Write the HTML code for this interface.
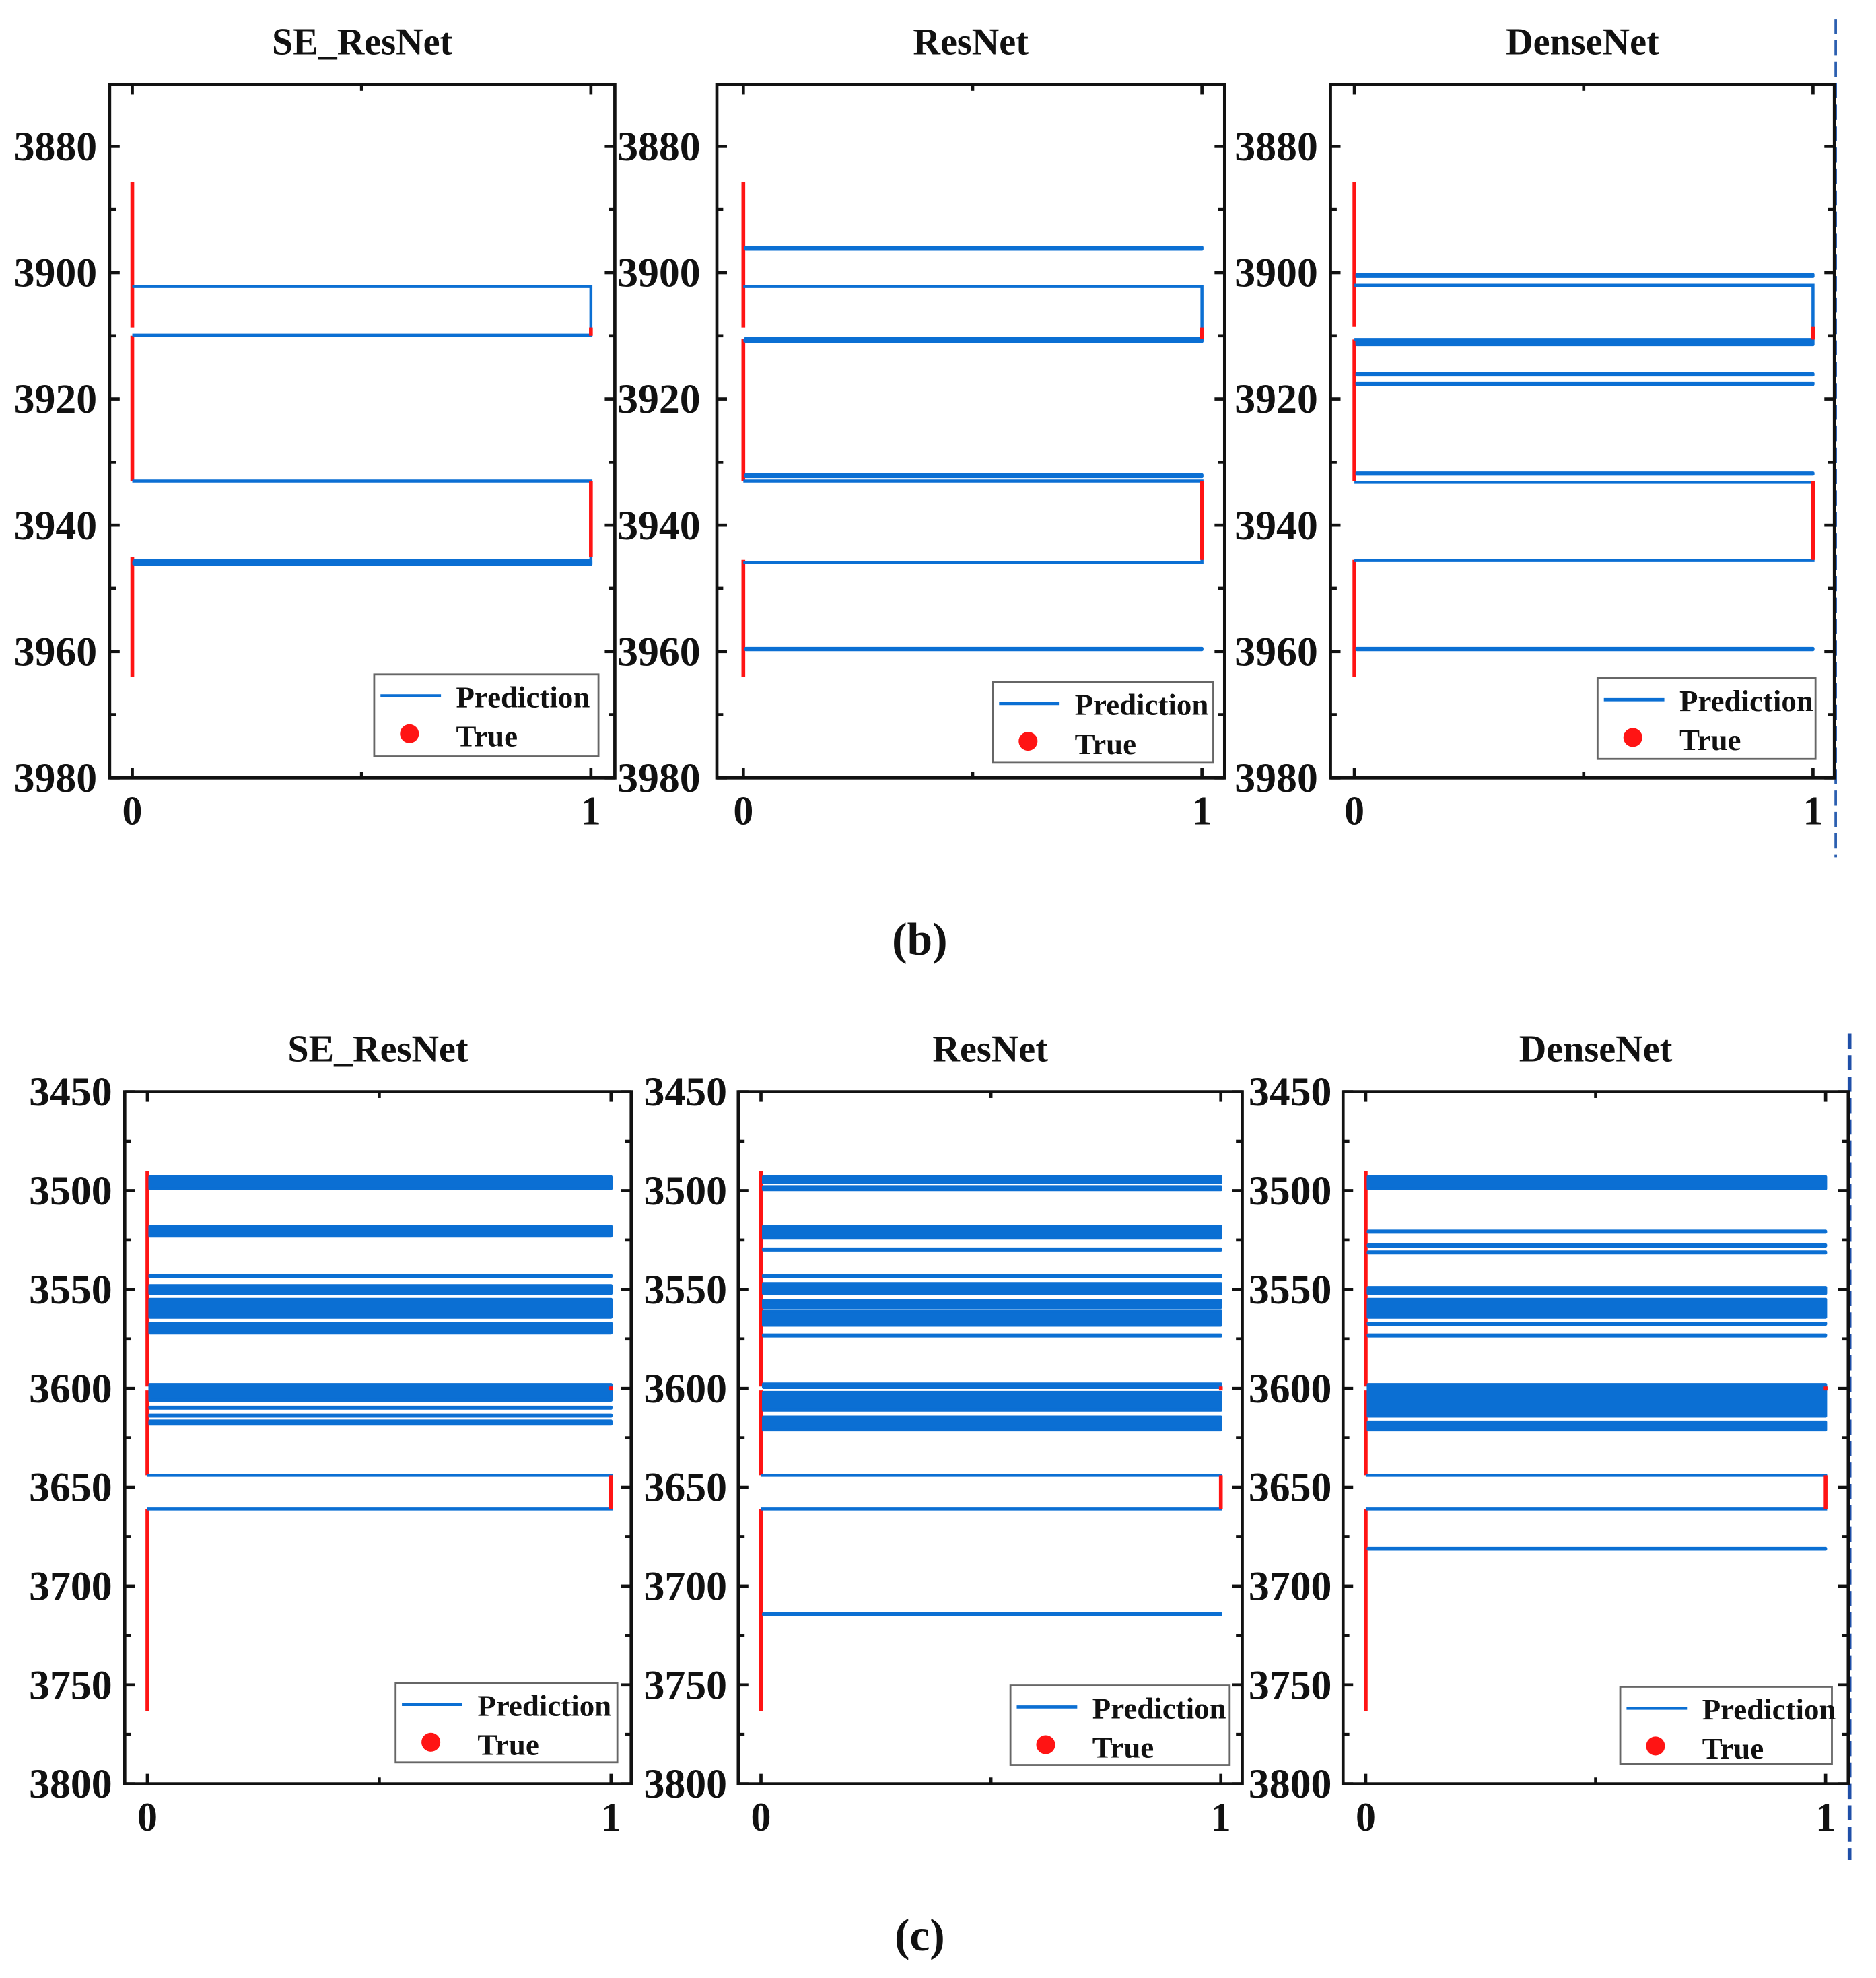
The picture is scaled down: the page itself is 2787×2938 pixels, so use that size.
<!DOCTYPE html>
<html><head><meta charset="utf-8"><style>
html,body{margin:0;padding:0;background:#fff;}
svg{display:block;}
text{font-family:"Liberation Serif",serif;font-weight:bold;fill:#111;}
</style></head>
<body>
<svg id="fig" width="2787" height="2938" viewBox="0 0 1489 1569" preserveAspectRatio="none" xmlns="http://www.w3.org/2000/svg">
<text x="730" y="757" font-size="36" text-anchor="middle">(b)</text>
<text x="730" y="1547" font-size="36" text-anchor="middle">(c)</text>
<line x1="1457" y1="15" x2="1457" y2="680" stroke="#2b5fb0" stroke-width="2" stroke-dasharray="12,5"/>
<line x1="1468" y1="820" x2="1468" y2="1475" stroke="#1f4fa8" stroke-width="3" stroke-dasharray="12,5"/>
</svg>
<script>
// ---- Panel (b) data ----
const bTitles = ["SE_ResNet","ResNet","DenseNet"];
const bTicks = [3880,3900,3920,3940,3960,3980];
const bDomain = [3870.2,3980];
const bSteps = [
  [[3902.2,3909.9],[3933,3946]],
  [[3902.2,3910.7],[3933,3945.9]],
  [[3902,3910.6],[3933.2,3945.6]]
];
const bLines = [
  [[3945.6,3946.2]],
  [[3896,3896.3],[3910.4,3910.9],[3932,3932.3],[3959.5,3959.7]],
  [[3900.3,3900.6],[3910.8,3911.4],[3916,3916.2],[3917.5,3917.7],[3931.7,3931.9],[3959.5,3959.7]]
];
const bTrueRange = [[3885.7,3964],[3885.7,3964],[3885.7,3964]];
const bTrueOnes = [
  [[3908.7,3910],[3933,3945]],
  [[3908.7,3910.5],[3933,3945.5]],
  [[3908.5,3910.6],[3933,3945.5]]
];
// ---- Panel (c) data ----
const cTitles = ["SE_ResNet","ResNet","DenseNet"];
const cTicks = [3450,3500,3550,3600,3650,3700,3750,3800];
const cDomain = [3450,3800];
const cSteps = [
  [[3644,3661]],
  [[3644,3661]],
  [[3644,3661]]
];
const cLines = [
  [[3493,3499],[3518,3523],[3543,3543.5],[3548,3552],[3555,3564],[3567,3572],[3598,3606],[3609.5,3610],[3613.5,3614],[3616.5,3618]],
  [[3493,3496],[3498,3499.5],[3518,3524],[3529.5,3530],[3543,3543.5],[3547,3552],[3555.5,3559],[3561,3568],[3573,3573.5],[3597.7,3599.5],[3602,3611],[3614.5,3621],[3714,3714.4]],
  [[3493,3499],[3520.5,3521],[3527.5,3528],[3531,3531.5],[3549,3552],[3555,3564],[3567,3567.5],[3573,3573.5],[3598,3614],[3617,3621],[3681,3681.4]]
];
const cTrueRange = [[3490,3763],[3490,3763],[3490,3763]];
const cTrueOnes = [
  [[3599,3601],[3644,3661]],
  [[3599,3601],[3644,3661]],
  [[3599,3601],[3644,3661]]
];

const NS = "http://www.w3.org/2000/svg";
const svg = document.getElementById("fig");
function mk(tag, attrs, parent){
  const e = document.createElementNS(NS, tag);
  for (const k in attrs) e.setAttribute(k, attrs[k]);
  (parent||svg).appendChild(e);
  return e;
}
const BLUE = "#0b6fd3", RED = "#ff1414";

function drawPanel(cfg){
  const {box, x0, x1, domain, ticks, minor, title, steps, lines, trueRange, trueOnes, legend, labelX, pid} = cfg;
  const g = mk("g", {});
  
  
  const yS = v => box.top + (v - domain[0]) / (domain[1] - domain[0]) * (box.bottom - box.top);
  const xS = v => x0 + v * (x1 - x0);
  const t = mk("text", {x:(box.left+box.right)/2, y:box.top-24, "font-size":30, "text-anchor":"middle"}, g);
  t.textContent = title;
  
  
  let cur = trueRange[0];
  const ones = trueOnes.slice().sort((a,b)=>a[0]-b[0]);
  ones.forEach(o => {
    if (o[0] > cur) {
      const l = mk("line", {x1:xS(0), x2:xS(0), y1:yS(cur), y2:yS(o[0]), stroke:RED, "stroke-width":3}, g);
      
      
    }
    cur = Math.max(cur, o[1]);
  });
  if (cur < trueRange[1]) {
    const l = mk("line", {x1:xS(0), x2:xS(0), y1:yS(cur), y2:yS(trueRange[1]), stroke:RED, "stroke-width":3}, g);
    
    
  }
  lines.forEach(b => {
    const y1 = yS(b[0]), y2 = yS(b[1]);
    const r = mk("rect", {x:xS(0)+2, y:y1, width:xS(1)-xS(0)-2, height:Math.max(0.01,y2-y1), fill:BLUE, stroke:BLUE, "stroke-width":2.4, "stroke-linejoin":"round"}, g);
    
    
  });
  steps.forEach(s => {
    const p = mk("path", {d:`M${xS(0)},${yS(s[0])}H${xS(1)}V${yS(s[1])}H${xS(0)}`, fill:"none", stroke:BLUE, "stroke-width":2.4}, g);
    
    
  });
  ones.forEach(o => {
    const l = mk("line", {x1:xS(1), x2:xS(1), y1:yS(o[0]), y2:yS(o[1]), stroke:RED, "stroke-width":3}, g);
    
    
  });
  const fr = mk("rect", {x:box.left, y:box.top, width:box.right-box.left, height:box.bottom-box.top, fill:"none", stroke:"#111", "stroke-width":2.5}, g);
  
  
  ticks.forEach((v,i) => {
    const y = yS(v);
    mk("line", {x1:box.left, x2:box.left+8, y1:y, y2:y, stroke:"#111", "stroke-width":2.5}, g);
    mk("line", {x1:box.right-8, x2:box.right, y1:y, y2:y, stroke:"#111", "stroke-width":2.5}, g);
    const tl = mk("text", {x:labelX, y:y+11, "font-size":33, "text-anchor":"end"}, g);
    tl.textContent = v;
    
    
    if (i < ticks.length-1) {
      const ym = yS(v + minor);
      mk("line", {x1:box.left, x2:box.left+5, y1:ym, y2:ym, stroke:"#111", "stroke-width":2.5}, g);
      mk("line", {x1:box.right-5, x2:box.right, y1:ym, y2:ym, stroke:"#111", "stroke-width":2.5}, g);
    }
  });
  [0,0.5,1].forEach(v => {
    const x = xS(v), len = v===0.5?5:8;
    mk("line", {x1:x, x2:x, y1:box.bottom-len, y2:box.bottom, stroke:"#111", "stroke-width":2.5}, g);
    mk("line", {x1:x, x2:x, y1:box.top, y2:box.top+len, stroke:"#111", "stroke-width":2.5}, g);
  });
  [0,1].forEach(v => {
    const xl = mk("text", {x:xS(v), y:box.bottom+37, "font-size":32, "text-anchor":"middle"}, g);
    xl.textContent = v;
    
    
  });
  const lg = mk("g", {}, g);
  
  
  mk("rect", {x:legend.x, y:legend.y, width:legend.w, height:legend.h, fill:"#fff", stroke:"#666", "stroke-width":1.5}, lg);
  mk("line", {x1:legend.x+5, x2:legend.x+53, y1:legend.y+17, y2:legend.y+17, stroke:BLUE, "stroke-width":2.5}, lg);
  mk("circle", {cx:legend.x+28, cy:legend.y+47, r:7.5, fill:RED}, lg);
  const lt1 = mk("text", {x:legend.x+65, y:legend.y+26, "font-size":24}, lg);
  lt1.textContent = "Prediction";
  
  
  const lt2 = mk("text", {x:legend.x+65, y:legend.y+57, "font-size":24}, lg);
  lt2.textContent = "True";
  
  
}

const bBoxes = [{left:87,right:488},{left:569,right:972},{left:1056,right:1456}];
const bX = [[105,469],[590,954],[1075,1439]];
const bLeg = [{x:297,y:535,w:178,h:65},{x:788,y:541,w:175,h:64},{x:1268,y:538,w:173,h:64}];
const bLab = [77,556,1046];
const cBoxes = [{left:99,right:501},{left:586,right:986},{left:1066,right:1467}];
const cX = [[117,485],[604,969],[1084,1449]];
const cLeg = [{x:314,y:1335,w:176,h:63},{x:802,y:1337,w:174,h:63},{x:1286,y:1338,w:168,h:61}];
const cLab = [89,577,1057];

for (let i=0;i<3;i++){
  drawPanel({pid:"b-"+bTitles[i].toLowerCase().replace("_","-"), title:bTitles[i],
    box:{left:bBoxes[i].left,right:bBoxes[i].right,top:67,bottom:617},
    x0:bX[i][0], x1:bX[i][1], domain:bDomain, ticks:bTicks, minor:10,
    steps:bSteps[i], lines:bLines[i], trueRange:bTrueRange[i], trueOnes:bTrueOnes[i],
    legend:bLeg[i], labelX:bLab[i]});
  drawPanel({pid:"c-"+cTitles[i].toLowerCase().replace("_","-"), title:cTitles[i],
    box:{left:cBoxes[i].left,right:cBoxes[i].right,top:866,bottom:1415},
    x0:cX[i][0], x1:cX[i][1], domain:cDomain, ticks:cTicks, minor:25,
    steps:cSteps[i], lines:cLines[i], trueRange:cTrueRange[i], trueOnes:cTrueOnes[i],
    legend:cLeg[i], labelX:cLab[i]});
}
</script>
</body></html>
